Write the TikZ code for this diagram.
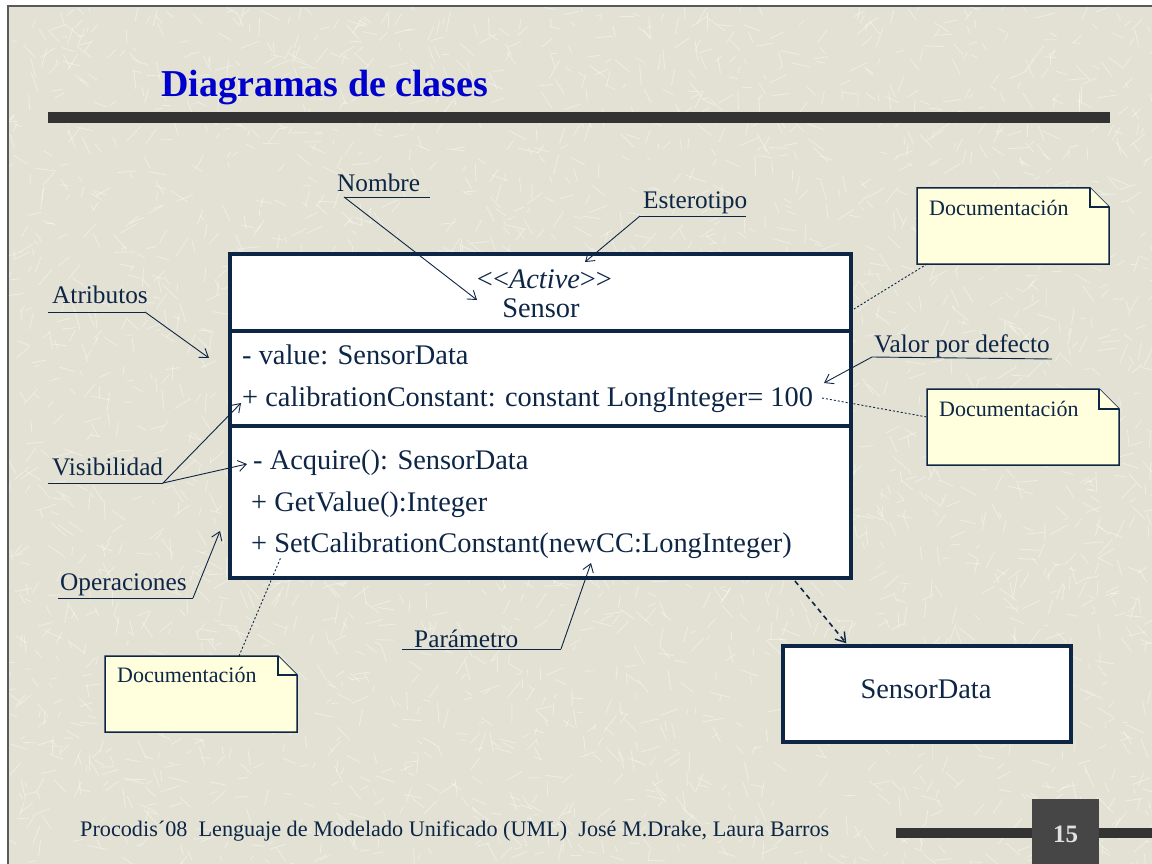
\documentclass[tikz,border=0pt]{standalone}
\usepackage{fontspec}
\setmainfont{Liberation Serif}
\usetikzlibrary{arrows.meta,calc}

\definecolor{ink}{RGB}{14,38,70}
\definecolor{slidebg}{RGB}{226,225,211}
\definecolor{framegray}{RGB}{90,90,90}
\definecolor{notefill}{RGB}{255,255,221}
\definecolor{titleblue}{RGB}{0,0,204}
\definecolor{barcol}{RGB}{51,51,51}
\definecolor{pagebox}{RGB}{70,70,70}
\definecolor{pagenum}{RGB}{225,225,225}

\pgfdeclarelayer{bg}
\pgfdeclarelayer{notes}
\pgfsetlayers{bg,notes,main}

\tikzset{
  txt/.style={inner sep=0pt, anchor=base west, text=ink},
  lbl/.style={txt, font=\fontsize{25.3}{30}\selectfont},
  member/.style={txt, font=\fontsize{28.4}{33}\selectfont},
  doctext/.style={txt, font=\fontsize{22}{26}\selectfont},
  leader/.style={draw=ink, line width=0.9pt},
  pointer/.style={leader, -{Straight Barb[length=8pt,width=11pt,line width=0.9pt]}},
  noteline/.style={draw=ink, line width=0.9pt, dash pattern=on 2pt off 2pt},
  deparrow/.style={draw=ink, line width=1.6pt, dash pattern=on 5pt off 4pt,
    -{Straight Barb[length=9pt,width=12pt,line width=1.4pt]}},
  classbox/.style={draw=ink, line width=3.5pt, fill=white, rectangle, inner sep=0pt},
  notebox/.style={draw=ink, line width=1.5pt, fill=notefill, line join=miter},
  divider/.style={draw=ink, line width=3.5pt},
}

% UML note outline: #1,#2 = top-left, #3,#4 = bottom-right, #5 = fold size
\newcommand{\umlnote}[5]{%
  \begin{pgfonlayer}{notes}
    \path[notebox] (#1,#2) -- (#3-#5,#2) -- (#3,#2+#5) -- (#3,#4) -- (#1,#4) -- cycle;
    \path[notebox] (#3-#5,#2) -- (#3-#5,#2+#5) -- (#3,#2+#5);
  \end{pgfonlayer}}

\begin{document}
\begin{tikzpicture}[x=1pt,y=-1pt]
\useasboundingbox (0,0) rectangle (1152,864);

% slide background with light fibre texture
\begin{pgfonlayer}{bg}
  \fill[white] (0,0) rectangle (1152,864);
  \fill[slidebg] (8,6) rectangle (1160,870);
  \begin{scope}
    \clip (8,6) rectangle (1152,864);
    \pgfmathsetseed{4242}
    \foreach \i in {1,...,3200}{
      \pgfmathsetmacro\px{8+1144*rnd}
      \pgfmathsetmacro\py{6+858*rnd}
      \pgfmathsetmacro\ang{360*rnd}
      \pgfmathsetmacro\len{5+16*rnd}
      \draw[white, opacity=0.4, line width=0.9pt] (\px,\py) -- ++(\ang:\len);
    }
  \end{scope}
  \draw[framegray, line width=1.5pt] (8,870) -- (8,6) -- (1160,6);
\end{pgfonlayer}

% title and rule
\node[anchor=base west, inner sep=0pt, text=titleblue,
      font=\bfseries\fontsize{38}{44}\selectfont] (title) at (161,97) {Diagramas de clases};
\fill[barcol] (48,112) rectangle (1110,123);

% class Sensor
\node[classbox, minimum width=621pt, minimum height=324pt] (sensor) at (540.5,416) {};
\draw[divider] (sensor.west |- 0,331) -- (sensor.east |- 0,331);
\draw[divider] (sensor.west |- 0,426) -- (sensor.east |- 0,426);
\node[member, anchor=base] (stereo) at (544.5,288) {<\kern0pt<\textit{Active}>\kern0pt>};
\node[member, anchor=base] (cname) at (541,317) {Sensor};
\node[member] (attr1) at (242,364) {- value: SensorData};
\node[member] (attr2) at (242,406) {+ calibrationConstant: constant LongInteger= 100};
\node[member] (op1) at (253,469) {- Acquire(): SensorData};
\node[member] (op2) at (251,511) {+ GetValue():Integer};
\node[member] (op3) at (251,552) {+ SetCalibrationConstant(newCC:LongInteger)};

% class SensorData
\node[classbox, minimum width=288pt, minimum height=96pt] (sdata) at (927,694) {};
\node[member, anchor=base] (sdataname) at (926,698) {SensorData};

% dependency
\coordinate (depstart) at (795,581);
\draw[deparrow] (depstart) -- ($(sdata.north west)+(65,-1)$);

% notes
\umlnote{917}{188}{1109}{264}{19}
\node[doctext] (docA) at (929,215) {Documentación};
\umlnote{927}{389}{1119}{465}{20}
\node[doctext] (docB) at (939,416) {Documentación};
\umlnote{105}{656}{297}{732}{19}
\node[doctext] (docC) at (117,682) {Documentación};

\coordinate (docAc) at (927,264);
\coordinate (docAt) at (854,309);
\draw[noteline] (docAc) -- (docAt);
\coordinate (docBc) at (927,417);
\coordinate (docBt) at (822,398);
\draw[noteline] (docBt) -- (docBc);
\coordinate (docCc) at (239,656);
\coordinate (docCt) at (281,557);
\draw[noteline] (docCc) -- (docCt);

% annotation labels with underlines and pointers
\node[lbl] (nombre) at (337,192) {Nombre};
\coordinate (nombreA) at (344,197);
\coordinate (nombreB) at (430,197);
\coordinate (nombreT) at (477,300);
\draw[leader] (nombreA) -- (nombreB);
\draw[pointer] (nombreA) -- (nombreT);

\node[lbl] (esterotipo) at (643,208) {Esterotipo};
\coordinate (esterA) at (640,216);
\coordinate (esterB) at (746,216);
\coordinate (esterT) at (585,262);
\draw[leader] (esterA) -- (esterB);
\draw[pointer] (esterA) -- (esterT);

\node[lbl] (atributos) at (52,303) {Atributos};
\coordinate (atribA) at (48,312);
\coordinate (atribB) at (145,312);
\coordinate (atribT) at (209,358);
\draw[leader] (atribA) -- (atribB);
\draw[pointer] (atribB) -- (atribT);

\node[lbl] (visib) at (52,475) {Visibilidad};
\coordinate (visA) at (48,483);
\coordinate (visB) at (163,483);
\coordinate (visT1) at (241,403);
\coordinate (visT2) at (247,464);
\draw[leader] (visA) -- (visB);
\draw[pointer] (visB) -- (visT1);
\draw[pointer] (visB) -- (visT2);

\node[lbl] (operac) at (60,590) {Operaciones};
\coordinate (opA) at (58,598);
\coordinate (opB) at (193,598);
\coordinate (opT) at (220,531);
\draw[leader] (opA) -- (opB);
\draw[pointer] (opB) -- (opT);

\node[lbl] (param) at (414,647) {Parámetro};
\coordinate (parA) at (402,649);
\coordinate (parB) at (561,649);
\coordinate (parT) at (591,563);
\draw[leader] (parA) -- (parB);
\draw[pointer] (parB) -- (parT);

\node[lbl] (valor) at (874,352) {Valor por defecto};
\coordinate (valA) at (872,357);
\coordinate (valB) at (1052,359);
\coordinate (valT) at (824,383);
\draw[leader] (valA) -- (valB);
\draw[pointer] (valA) -- (valT);

% footer
\node[txt, font=\fontsize{22.2}{26}\selectfont] (footer) at (80,836)
  {Procodis´08\ \ Lenguaje de Modelado Unificado (UML)\ \ José M.Drake, Laura Barros};
\fill[barcol] (896,828) rectangle (1152,838);
\fill[pagebox] (1032,799) rectangle (1099,864);
\node[anchor=base, inner sep=0pt, text=pagenum, font=\bfseries\fontsize{25}{30}\selectfont]
  (page) at (1065.5,842) {15};
\end{tikzpicture}
\end{document}
